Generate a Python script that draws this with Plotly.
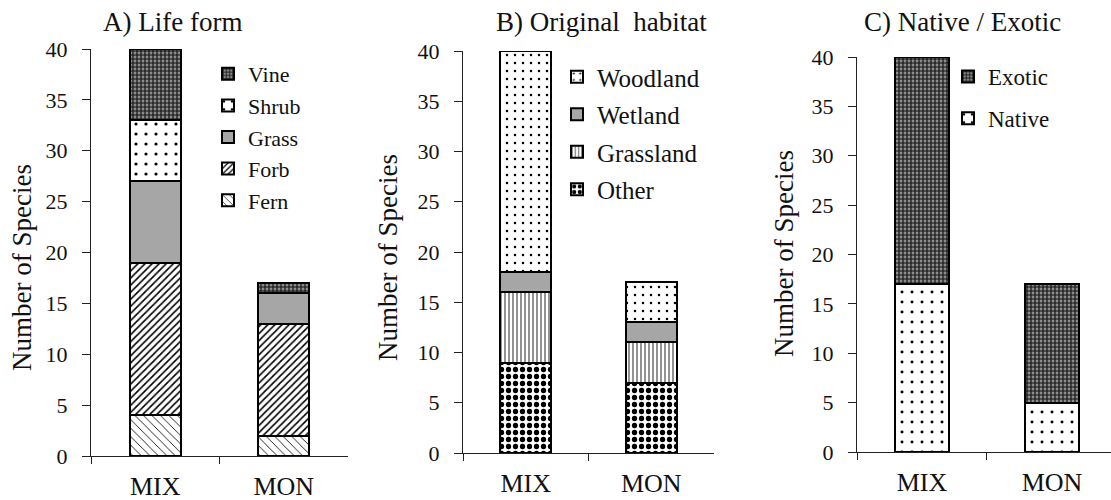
import plotly.graph_objects as go

# Species counts per plantation type
categories = ["MIX", "MON"]

# A) Life form
fern = [4, 2]
forb = [15, 11]
grass = [8, 3]
shrub = [6, 0]
vine = [7, 1]

# B) Original habitat
other = [9, 7]
grassland = [7, 4]
wetland = [2, 2]
woodland = [22, 4]

# C) Native / Exotic
native = [17, 5]
exotic = [23, 12]

y_ticks = [0, 5, 10, 15, 20, 25, 30, 35, 40]

SERIF = "Liberation Serif"
W, H = 1111, 500


def px_x(p):
    return p / W


def px_y(p):
    return 1 - p / H


# Fill styles
STYLE = {
    "Fern": dict(shape="\\", fgcolor="black", bgcolor="white", size=6, solidity=0.14),
    "Forb": dict(shape="/", fgcolor="black", bgcolor="white", size=5, solidity=0.32),
    "Grass": dict(shape="", bgcolor="#a6a6a6"),
    "Shrub": dict(shape=".", fgcolor="black", bgcolor="white", size=10, solidity=0.08),
    "Vine": dict(shape="+", fgcolor="#111111", bgcolor="#8c8c8c", size=4, solidity=0.5),
    "Other": dict(shape=".", fgcolor="black", bgcolor="white", size=7, solidity=0.45),
    "Grassland": dict(shape="|", fgcolor="#777777", bgcolor="white", size=4, solidity=0.4),
    "Wetland": dict(shape="", bgcolor="#a6a6a6"),
    "Woodland": dict(shape=".", fgcolor="black", bgcolor="white", size=8, solidity=0.08),
    "Native": dict(shape=".", fgcolor="black", bgcolor="white", size=10, solidity=0.07),
    "Exotic": dict(shape="+", fgcolor="#111111", bgcolor="#8c8c8c", size=4, solidity=0.5),
}

panels = [
    # (suffix, legend, series, bar width, x range, x domain px, y domain px)
    ("", "legend", [("Fern", fern), ("Forb", forb), ("Grass", grass), ("Shrub", shrub), ("Vine", vine)],
     0.40, [-0.5, 1.5], (91, 348), (456, 49)),
    ("2", "legend2", [("Other", other), ("Grassland", grassland), ("Wetland", wetland), ("Woodland", woodland)],
     0.41, [-0.5, 1.5], (463, 714), (453, 51)),
    ("3", "legend3", [("Native", native), ("Exotic", exotic)],
     0.41, [-0.5, 1.454], (857, 1111), (452, 57)),
]

fig = go.Figure()
xpos = list(range(len(categories)))

for suffix, legend, series, bw, xr, xd, yd in panels:
    n = len(series)
    for i, (name, vals) in enumerate(series):
        st = STYLE[name]
        pattern = dict(shape=st["shape"], bgcolor=st["bgcolor"], fillmode="replace")
        if st["shape"]:
            pattern.update(fgcolor=st["fgcolor"], size=st["size"], solidity=st["solidity"])
        fig.add_trace(go.Bar(
            x=xpos, y=vals, name=name, width=bw,
            xaxis="x" + suffix, yaxis="y" + suffix,
            legend=legend, legendgroup=legend + name, legendrank=100 + n - i,
            marker=dict(color=st["bgcolor"], pattern=pattern,
                        line=dict(color="black", width=2)),
            cliponaxis=False,
        ))
    axis_line = dict(showline=True, linecolor="#222222", linewidth=1, zeroline=False,
                     showgrid=False, automargin=False)
    fig.update_layout(**{
        "xaxis" + suffix: dict(
            domain=[px_x(xd[0]), px_x(xd[1])], range=xr, anchor="y" + suffix,
            tickvals=xpos, ticktext=categories, ticks="",
            tickfont=dict(family=SERIF, size=26, color="#111"),
            ticklabelstandoff=7,
            minor=dict(tickvals=[-0.5, 0.5], ticks="outside", ticklen=7,
                       tickcolor="#222222", tickwidth=1),
            **axis_line),
        "yaxis" + suffix: dict(
            domain=[px_y(yd[0]), px_y(yd[1])], range=[0, 40], anchor="x" + suffix,
            tickvals=y_ticks, ticks="outside", ticklen=8, tickcolor="#222222",
            tickfont=dict(family=SERIF, size=22, color="#111"),
            ticklabelstandoff=10,
            **axis_line),
    })

legend_common = dict(bgcolor="rgba(0,0,0,0)", traceorder="grouped",
                     xanchor="left", yanchor="top", itemwidth=30)
fig.update_layout(
    legend=dict(x=px_x(208), y=px_y(53), tracegroupgap=0,
                font=dict(family=SERIF, size=22, color="#111"), **legend_common),
    legend2=dict(x=px_x(557), y=px_y(54), tracegroupgap=2,
                 font=dict(family=SERIF, size=25, color="#111"), **legend_common),
    legend3=dict(x=px_x(948), y=px_y(55), tracegroupgap=9,
                 font=dict(family=SERIF, size=23, color="#111"), **legend_common),
)

titles = [("A) Life form", 172), ("B) Original  habitat", 601), ("C) Native / Exotic", 962)]
ytitles = [(22, 268), (388, 258), (784, 254)]
annotations = []
for text, cx in titles:
    annotations.append(dict(text=text, x=px_x(cx), y=px_y(22), xref="paper", yref="paper",
                            xanchor="center", yanchor="middle", showarrow=False,
                            font=dict(family=SERIF, size=27, color="#111")))
for cx, cy in ytitles:
    annotations.append(dict(text="Number of Species", x=px_x(cx), y=px_y(cy), xref="paper",
                            yref="paper", xanchor="center", yanchor="middle", showarrow=False,
                            textangle=-90, font=dict(family=SERIF, size=27, color="#111")))

fig.update_layout(
    width=W, height=H, barmode="stack", margin=dict(l=0, r=0, t=0, b=0),
    paper_bgcolor="white", plot_bgcolor="white", showlegend=True,
    annotations=annotations,
)

fig.write_html("out.html")
